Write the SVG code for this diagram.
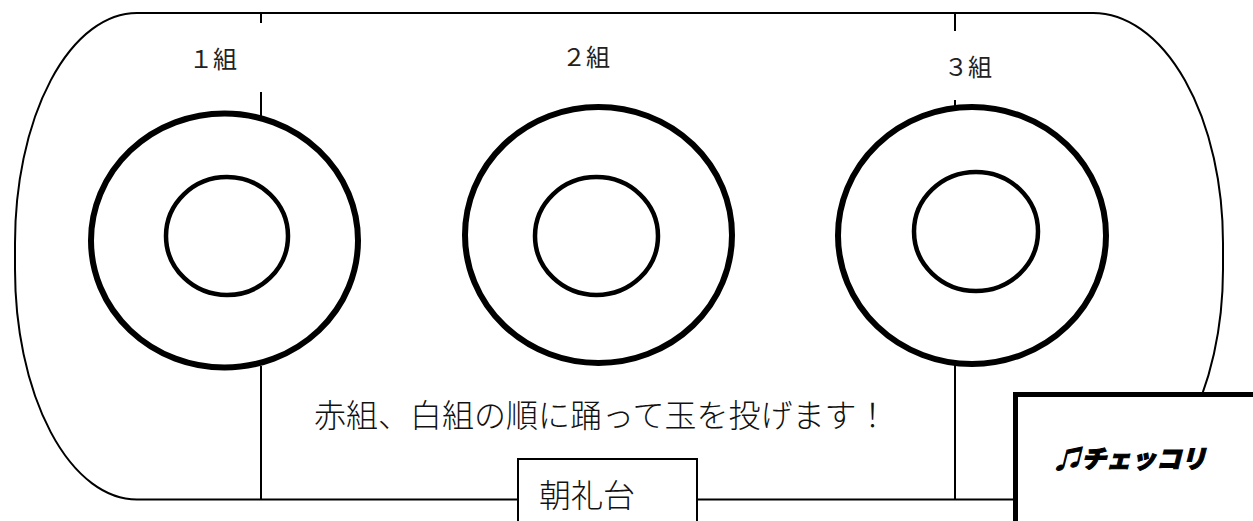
<svg xmlns="http://www.w3.org/2000/svg" width="1253" height="521" viewBox="0 0 1253 521">
<style>
.thin{fill:none;stroke:#000;stroke-width:2}
.ring{fill:none;stroke:#000;stroke-width:6}
.inner{fill:none;stroke:#000;stroke-width:4.5}
.lbl{font-family:"Noto Sans CJK JP","Liberation Serif",serif;font-size:24px;fill:#222}
.big{font-family:"Noto Sans CJK JP","Liberation Sans",sans-serif;font-size:32px;fill:#111;font-weight:300}
</style>
<rect width="1253" height="521" fill="#fff"/>
<g id="field">
<path class="thin" d="M137,13 H1093 A130,230 0 0 1 1223,243 V269 A130,230 0 0 1 1093,499.5 H137 A122,230 0 0 1 15,269.5 V243 A122,230 0 0 1 137,13 Z"/>
</g>
<g id="connectors">
<line class="thin" x1="261" y1="13" x2="261" y2="23"/>
<line class="thin" x1="261" y1="92" x2="261" y2="116"/>
<line class="thin" x1="261" y1="366" x2="261" y2="499.5"/>
<line class="thin" x1="955" y1="13" x2="955" y2="31"/>
<line class="thin" x1="955" y1="100" x2="955" y2="108"/>
<line class="thin" x1="955" y1="364" x2="955" y2="499.5"/>
</g>
<g id="group1">
<ellipse class="ring" cx="224.5" cy="240.5" rx="133.5" ry="127"/>
<ellipse class="inner" cx="227" cy="236" rx="61" ry="59"/>
<text class="lbl" x="189" y="68">１組</text>
</g>
<g id="group2">
<ellipse class="ring" cx="598.5" cy="235" rx="133.5" ry="128"/>
<ellipse class="inner" cx="596.5" cy="236" rx="61.5" ry="59"/>
<text class="lbl" x="562" y="66">２組</text>
</g>
<g id="group3">
<ellipse class="ring" cx="972" cy="235.5" rx="134" ry="128.5"/>
<ellipse class="inner" cx="976" cy="231.5" rx="62" ry="59.5"/>
<text class="lbl" x="944" y="76">３組</text>
</g>
<g id="message">
<text class="big" x="314" y="427">赤組、白組の順に踊って玉を投げます！</text>
</g>
<g id="stage">
<rect x="518" y="459" width="179" height="80" fill="#fff" stroke="#000" stroke-width="2"/>
<text class="big" x="539" y="507">朝礼台</text>
</g>
<g id="song">
<rect x="1015.5" y="394.5" width="260" height="150" fill="#fff" stroke="#000" stroke-width="5"/>
<text x="1056" y="468" font-family="'Noto Sans CJK JP','DejaVu Sans',sans-serif" font-size="25" font-weight="900" font-style="italic" fill="#000" stroke="#000" stroke-width="1">♫チェッコリ</text>
</g>
</svg>
